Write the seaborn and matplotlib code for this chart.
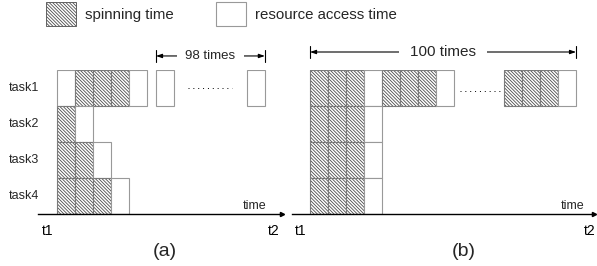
import pandas as pd
import seaborn as sns
import matplotlib.pyplot as plt
from matplotlib.patches import Patch

# slot positions (in resource-access time units) and kinds: S = spinning, R = resource access
tasks = ["task1", "task2", "task3", "task4"]

a_slots = {
    "task1": [0, 1, 2, 3, 4, 5.5, 10.55],
    "task2": [0, 1],
    "task3": [0, 1, 2],
    "task4": [0, 1, 2, 3],
}
a_kinds = {"task1": "RSSSRRR", "task2": "SR", "task3": "SSR", "task4": "SSSR"}

b_slots = {
    "task1": [0, 1, 2, 3, 4, 5, 6, 7, 10.78, 11.78, 12.78, 13.78],
    "task2": [0, 1, 2, 3],
    "task3": [0, 1, 2, 3],
    "task4": [0, 1, 2, 3],
}
b_kinds = {"task1": "SSSRSSSRSSSR", "task2": "SSSR", "task3": "SSSR", "task4": "SSSR"}

repeat_labels = {"a": "98 times", "b": "100 times"}
time_ticks = {"a": [-0.5, 12.06], "b": [-0.5, 15.56]}
tick_labels = ["t1", "t2"]
legend_labels = ["spinning time", "resource access time"]

HATCH = "\\" * 10
SPIN_EDGE = "#4d4d4d"
BOX_EDGE = "#999999"


def make_df(slots, kinds):
    rows = []
    for t in tasks:
        for s, k in zip(slots[t], kinds[t]):
            rows.append({"task": t, "start": s, "kind": k})
    return pd.DataFrame(rows)


def draw_panel(ax, df):
    for _, r in df.iterrows():
        y = 3 - tasks.index(r["task"])
        if r["kind"] == "S":
            ax.barh(y, 1, left=r["start"], height=1, align="edge", color="white",
                    edgecolor=SPIN_EDGE, hatch=HATCH, linewidth=0)
            ax.barh(y, 1, left=r["start"], height=1, align="edge", fill=False,
                    edgecolor="#7a7a7a", linewidth=0.8)
        else:
            ax.barh(y, 1, left=r["start"], height=1, align="edge", color="white",
                    edgecolor=BOX_EDGE, linewidth=0.8)


def draw_repeat(ax, start, end, y, label, size, pad):
    d = 0.17
    ax.annotate("", xy=(end, y), xytext=(start, y), annotation_clip=False,
                arrowprops=dict(arrowstyle="<|-|>,head_length=0.35,head_width=0.12",
                                lw=0.8, color="black", shrinkA=0, shrinkB=0))
    for x in (start, end):
        ax.plot([x, x], [y - d, y + d], color="black", lw=0.8, clip_on=False)
    ax.text((start + end) / 2, y, label, ha="center", va="center", fontsize=size,
            zorder=5, bbox=dict(fc="white", ec="none", pad=pad))


def style_axis(ax, xlim, ticks):
    ax.set_xlim(*xlim)
    ax.set_ylim(0, 4)
    for s in ["left", "top", "right"]:
        ax.spines[s].set_visible(False)
    ax.spines["bottom"].set_color("black")
    ax.spines["bottom"].set_linewidth(1)
    ax.set_yticks([])
    ax.set_xticks(ticks)
    ax.set_xticklabels(tick_labels)
    ax.tick_params(axis="x", direction="in", length=5, width=0.8, colors="black",
                   labelsize=10, pad=7)
    ax.plot([xlim[1]], [0], marker=">", color="black", markersize=3, clip_on=False)
    ax.set_facecolor("none")


sns.set_style("white")
plt.rcParams["font.family"] = ["Liberation Sans", "DejaVu Sans"]
plt.rcParams["hatch.linewidth"] = 0.6

W, H = 597, 266
fig = plt.figure(figsize=(W / 100, H / 100), dpi=100)
ax_a = fig.add_axes([38 / W, 52 / H, 244 / W, 144 / H])
ax_b = fig.add_axes([292 / W, 52 / H, 302 / W, 144 / H])

df_a = make_df(a_slots, a_kinds)
df_b = make_df(b_slots, b_kinds)

draw_panel(ax_a, df_a)
draw_panel(ax_b, df_b)
style_axis(ax_a, (-19 / 18, 12.5), time_ticks["a"])
style_axis(ax_b, (-1.0, 284 / 18), time_ticks["b"])

# task labels
for i, t in enumerate(tasks):
    ax_a.text(-2.67, 3.5 - i, t, ha="left", va="center", fontsize=9, clip_on=False)

# dotted continuation marks
ax_a.plot([7.28, 9.72], [3.5, 3.5], color="black", lw=0.7, ls=(0, (1, 4)))
ax_b.plot([8.33, 10.67], [3.42, 3.42], color="black", lw=0.7, ls=(0, (1, 4)))

# repetition spans taken from task1 boxes
a1 = a_slots["task1"]
draw_repeat(ax_a, a1[5], a1[-1] + 1, 4.39, repeat_labels["a"], 9.5, 6)
b1 = b_slots["task1"]
draw_repeat(ax_b, b1[0], b1[-1] + 1, 4.5, repeat_labels["b"], 11, 8)

ax_a.text(11.0, 0.22, "time", ha="center", va="center", fontsize=9)
ax_b.text(14.56, 0.22, "time", ha="center", va="center", fontsize=9)

fig.text(165 / W, 1 - 252 / H, "(a)", ha="center", va="center", fontsize=14)
fig.text(464 / W, 1 - 252 / H, "(b)", ha="center", va="center", fontsize=14)

handles = [Patch(facecolor="white", edgecolor=SPIN_EDGE, hatch=HATCH, linewidth=0.6),
           Patch(facecolor="white", edgecolor=BOX_EDGE, linewidth=0.8)]
fig.legend(handles, legend_labels, ncol=2, loc="upper left",
           bbox_to_anchor=(46 / W, 1 - 2 / H), frameon=False, fontsize=10.8,
           handlelength=2.0, handleheight=2.07, handletextpad=0.6,
           columnspacing=2.8, borderpad=0, borderaxespad=0)

fig.savefig("out.png", dpi=100)
